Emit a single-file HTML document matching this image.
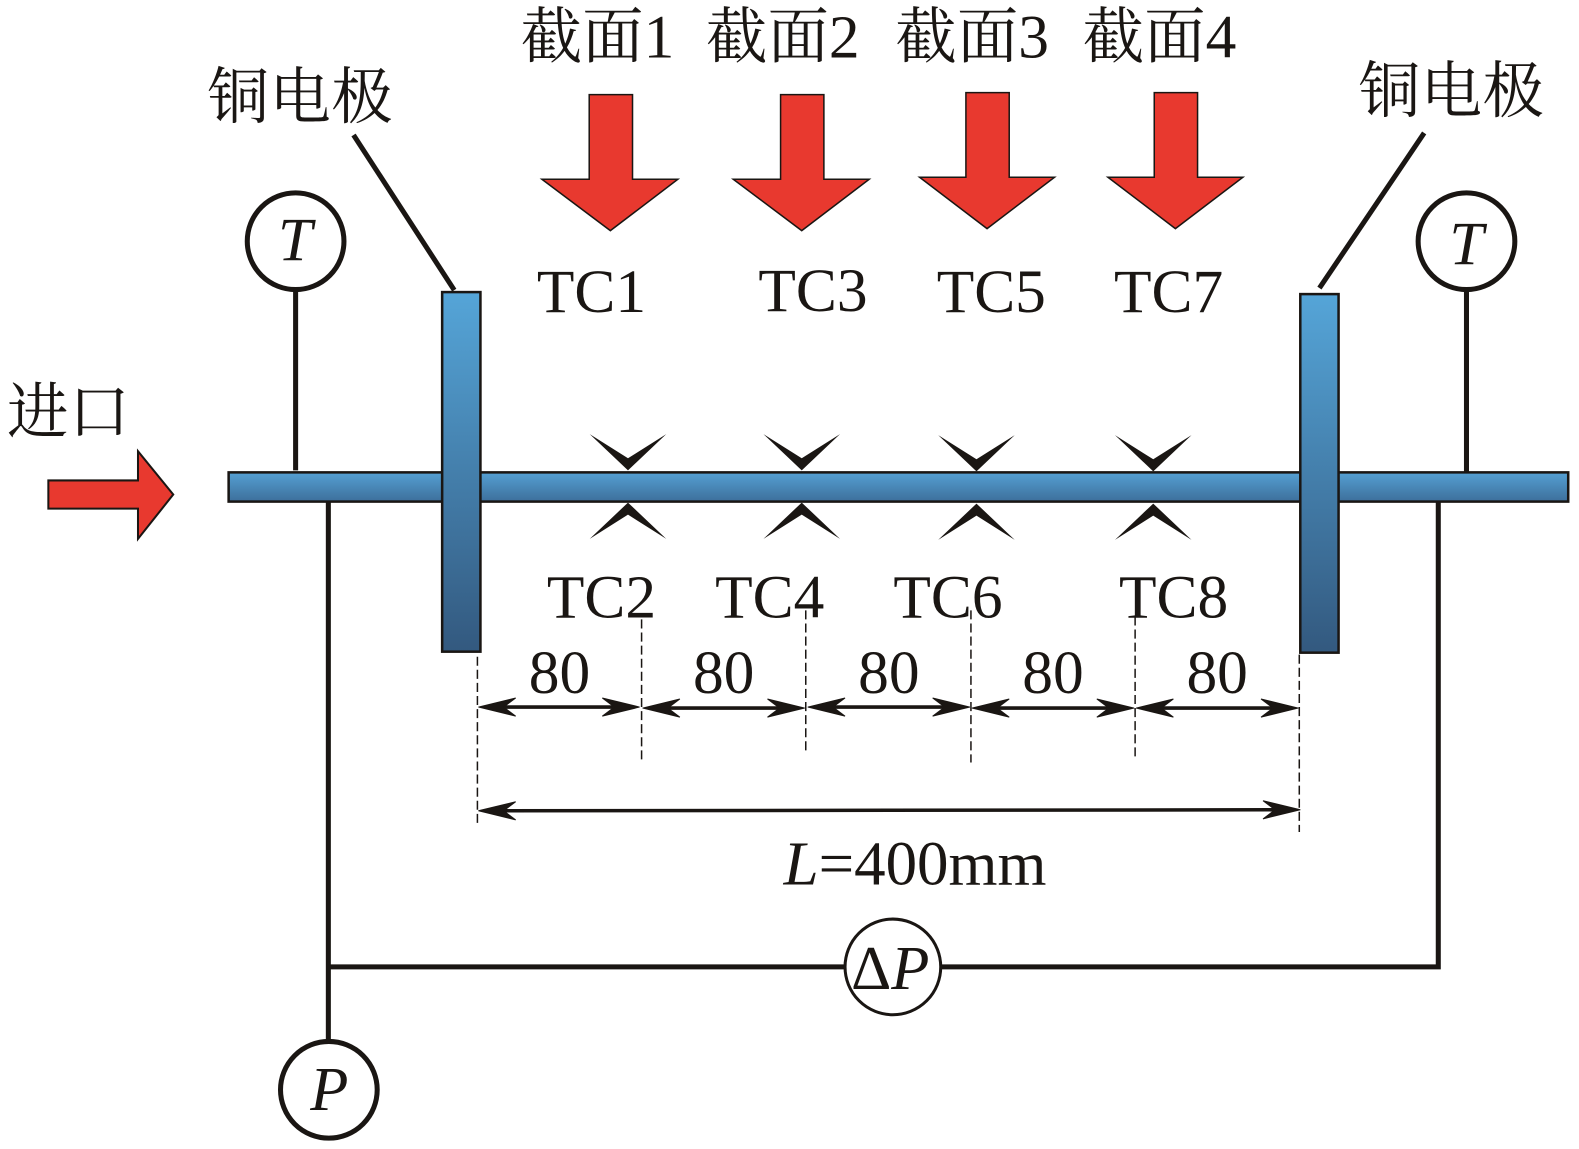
<!DOCTYPE html>
<html><head><meta charset="utf-8"><style>
html,body{margin:0;padding:0;background:#fff}
svg{display:block}
text{font-family:"Liberation Serif","Noto Serif CJK SC",serif;fill:#1a1613;font-size:61px}
.i{font-style:italic}
</style></head><body>
<svg width="1579" height="1149" viewBox="0 0 1579 1149" xmlns="http://www.w3.org/2000/svg">
<defs>
<linearGradient id="h" x1="0" y1="0" x2="0" y2="1"><stop offset="0" stop-color="#55a0d3"/><stop offset="1" stop-color="#3d6f9b"/></linearGradient>
<linearGradient id="v" x1="0" y1="0" x2="0" y2="1"><stop offset="0" stop-color="#55a5d8"/><stop offset="1" stop-color="#33597f"/></linearGradient>
<g id="tc"><polygon points="-38,-36 0,-12 38,-36 0,0"/><polygon points="-38,68 0,44 38,68 0,32"/></g>
</defs>
<g transform="scale(1.0072)">
<text x="517" y="57">截面1</text>
<text x="701" y="57">截面2</text>
<text x="889" y="57">截面3</text>
<text x="1075" y="57">截面4</text>
<text x="206" y="117" textLength="184">铜电极</text>
<text x="1349" y="111" textLength="184">铜电极</text>
<text x="7" y="430">进口</text>
<g fill="#e8392f" stroke="#1a1613" stroke-width="1.500">
<polygon points="585,94 628,94 628,178 673,178 606,229 538,178 585,178"/>
<polygon points="775,94 818,94 818,178 863,178 796,229 728,178 775,178"/>
<polygon points="959,92 1002,92 1002,176 1047,176 980,227 913,176 959,176"/>
<polygon points="1146,92 1189,92 1189,176 1234,176 1167,227 1100,176 1146,176"/>
<polygon points="48,477 137,477 137,448 172,491 137,535 137,505 48,505" stroke-width="2"/>
</g>
<g stroke="#1a1613" stroke-width="5" fill="none">
<line x1="351" y1="134" x2="451" y2="288"/>
<line x1="1414" y1="132" x2="1310" y2="286"/>
<line x1="293.500" y1="288" x2="293.500" y2="467"/>
<line x1="1456" y1="288" x2="1456" y2="469"/>
<path d="M326 498V1035M328 960H840M933 960H1428V498"/>
<circle cx="293.500" cy="239.500" r="48"/>
<circle cx="1456" cy="239.500" r="48"/>
<circle cx="326.500" cy="1082" r="48"/>
<circle cx="886.500" cy="960" r="47.500" stroke-width="3" fill="#fff"/>
</g>
<text class="i" x="276" y="258" style="font-size:61px">T</text>
<text class="i" x="1439" y="262" style="font-size:61px">T</text>
<text class="i" x="308" y="1102" style="font-size:62px">P</text>
<text x="845" y="982" style="font-size:62px;font-family:'Liberation Serif','DejaVu Serif',serif">Δ<tspan class="i">P</tspan></text>
<rect x="227" y="469" width="1330" height="29" fill="url(#h)" stroke="#1a1613" stroke-width="2.500"/>
<rect x="439" y="290" width="38" height="357" fill="url(#v)" stroke="#1a1613" stroke-width="2.500"/>
<rect x="1291" y="292" width="38" height="356" fill="url(#v)" stroke="#1a1613" stroke-width="2.500"/>
<g fill="#1a1613">
<use href="#tc" x="623.500" y="467"/>
<use href="#tc" x="796" y="467"/>
<use href="#tc" x="969.500" y="468"/>
<use href="#tc" x="1145" y="468"/>
</g>
<text x="533" y="310">TC1</text>
<text x="753" y="309">TC3</text>
<text x="930" y="310">TC5</text>
<text x="1106" y="310">TC7</text>
<text x="543" y="613">TC2</text>
<text x="710" y="613">TC4</text>
<text x="887" y="613">TC6</text>
<text x="1111" y="613">TC8</text>
<text x="525" y="688">80</text>
<text x="688" y="688">80</text>
<text x="852" y="688">80</text>
<text x="1015" y="688">80</text>
<text x="1178" y="688">80</text>
<text x="778" y="878" style="font-size:62.500px"><tspan class="i">L</tspan>=400mm</text>
<g stroke="#1a1613" stroke-width="1.500" stroke-dasharray="9 4" fill="none">
<line x1="474" y1="652" x2="474" y2="820"/>
<line x1="637" y1="615" x2="637" y2="755"/>
<line x1="800" y1="606" x2="800" y2="745"/>
<line x1="964" y1="606" x2="964" y2="757"/>
<line x1="1127" y1="612" x2="1127" y2="755"/>
<line x1="1290" y1="650" x2="1290" y2="826"/>
</g>
<g stroke="#1a1613" stroke-width="3.500" fill="none">
<line x1="490" y1="702" x2="620" y2="702"/>
<line x1="653" y1="703" x2="784" y2="703"/>
<line x1="816" y1="702" x2="948" y2="702"/>
<line x1="980" y1="703" x2="1111" y2="703"/>
<line x1="1143" y1="703" x2="1274" y2="703"/>
<line x1="495" y1="805" x2="1270" y2="804"/>
</g>
<g fill="#1a1613" stroke="#1a1613" stroke-width="1">
<polygon points="475,702 512,693 500,702 512,711"/>
<polygon points="635,702 598,693 610,702 598,711"/>
<polygon points="638,703 675,694 663,703 675,712"/>
<polygon points="799,703 762,694 774,703 762,712"/>
<polygon points="802,702 839,693 827,702 839,711"/>
<polygon points="963,702 926,693 938,702 926,711"/>
<polygon points="965,703 1002,694 990,703 1002,712"/>
<polygon points="1126,703 1089,694 1101,703 1089,712"/>
<polygon points="1128,703 1165,694 1153,703 1165,712"/>
<polygon points="1289,703 1252,694 1264,703 1252,712"/>
<polygon points="475,805 512,796 500,805 512,814"/>
<polygon points="1291,804 1254,795 1266,804 1254,813"/>
</g>
</g>
</svg>
</body></html>
